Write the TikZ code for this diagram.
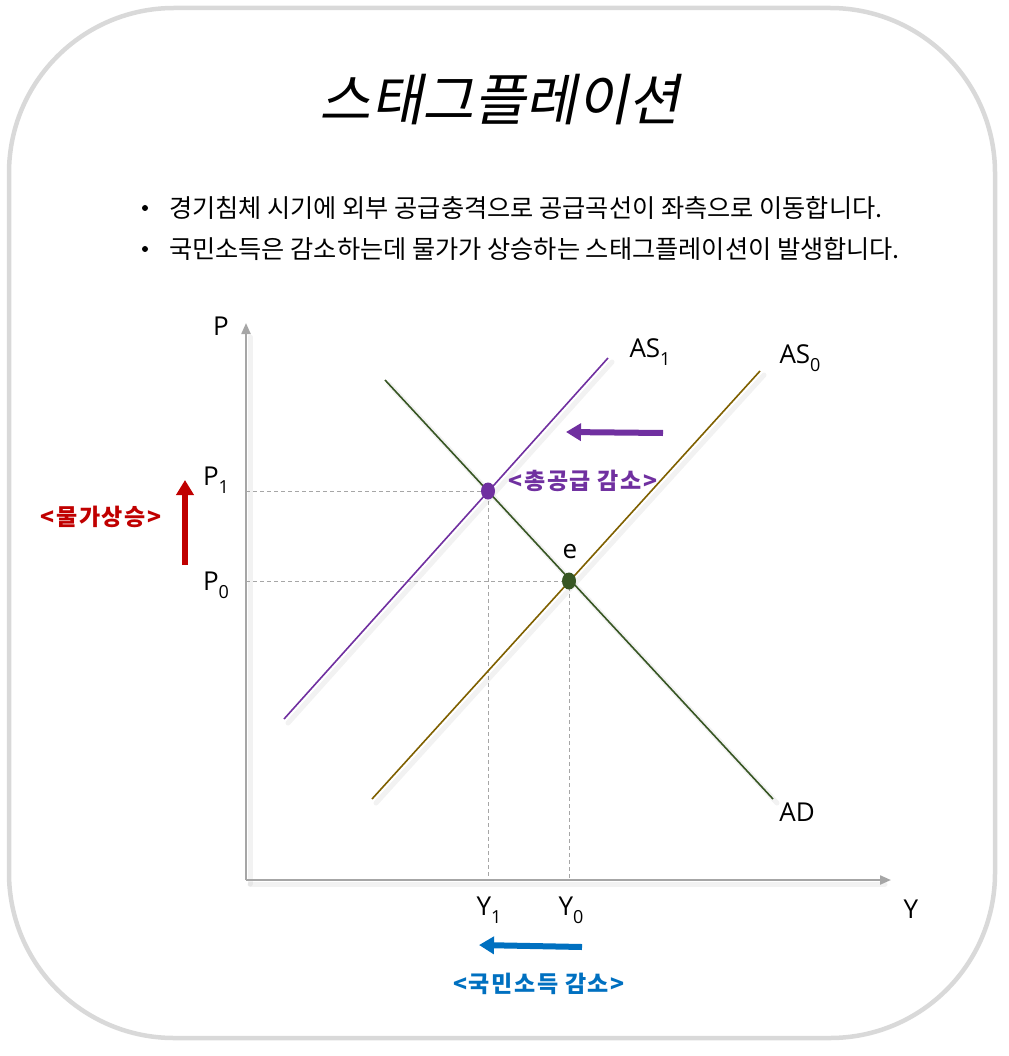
\documentclass[tikz,border=0pt]{standalone}
\usepackage{fontspec}
\setmainfont{Open Sans}
\newfontfamily\kr{Noto Sans CJK KR}
\newfontfamily\krsp[LetterSpace=7]{Noto Sans CJK KR}
\newfontfamily\krit[FakeSlant=0.2]{Noto Sans CJK KR}
\usetikzlibrary{arrows.meta,shapes.geometric}
\definecolor{axisgray}{HTML}{A6A6A6}
\definecolor{asone}{HTML}{7030A0}
\definecolor{adgreen}{HTML}{375623}
\definecolor{aszero}{HTML}{7F6000}
\definecolor{upred}{HTML}{C00000}
\definecolor{downblue}{HTML}{0070C0}
\definecolor{framegray}{HTML}{D9D9D9}
\newcommand\lowsub[1]{\raisebox{-0.3em}{\fontsize{18}{18}\selectfont #1}}
\tikzset{
  axis/.style={draw=axisgray, line width=2.2pt, -{Triangle[length=11pt,width=9pt]}},
  curve/.style={line width=1.6pt},
  shade/.style={draw=black, opacity=0.05, line width=5pt, line cap=round},
  guide/.style={draw=gray!70, dashed, line width=0.8pt, dash pattern=on 4pt off 3pt},
  lbl/.style={inner sep=0pt, font=\fontsize{26}{30}\selectfont},
  fat/.style={line width=6pt, -{Triangle[length=15pt,width=17pt]}},
  krlbl/.style={inner sep=0pt, font=\krsp\bfseries\fontsize{23}{28}\selectfont},
  bul/.style={inner sep=0pt, anchor=west, font=\kr\fontsize{25.2}{30}\selectfont},
  bulmark/.style={circle, fill=black, minimum size=6pt, inner sep=0pt},
  dot/.style={ellipse, minimum width=14pt, minimum height=17pt, inner sep=0pt}
}
\begin{document}
\begin{tikzpicture}[x=1pt,y=-1pt]
\useasboundingbox (0,0) rectangle (1008,1056);
% frame
\draw[line width=4.5pt, draw=framegray, rounded corners=165pt] (9,8) rectangle (995,1038);
% title
\node[inner sep=0pt, font=\krit\fontsize{56}{66}\selectfont] (title) at (500,100) {스태그플레이션};
% bullets
\node[bulmark] (b1) at (145,208) {};
\node[bul] (t1) at (169,208) {경기침체 시기에 외부 공급충격으로 공급곡선이 좌측으로 이동합니다.};
\node[bulmark] (b2) at (145,249) {};
\node[bul] (t2) at (169,249) {국민소득은 감소하는데 물가가 상승하는 스태그플레이션이 발생합니다.};
% axes
\coordinate (O) at (246,880);
\coordinate (ptop) at (246,323);
\coordinate (yend) at (891,880);
\draw[shade] ([shift={(4,4)}]O) -- ([shift={(4,14)}]ptop);
\draw[shade] ([shift={(4,4)}]O) -- ([shift={(-6,4)}]yend);
\draw[axis] (O) -- (ptop);
\draw[axis] (O) -- (yend);
\node[lbl] (plab) at (221,326) {P};
\node[lbl] (ylab) at (911,909) {Y};
% intersection points
\coordinate (E1) at (488,491);
\coordinate (E0) at (569,581);
% guides
\coordinate (p1ax) at (246,491);
\coordinate (p0ax) at (246,581);
\coordinate (y1ax) at (488,880);
\coordinate (y0ax) at (569,880);
\draw[guide] (p1ax) -- (E1) -- (y1ax);
\draw[guide] (p0ax) -- (E0) -- (y0ax);
% curves
\coordinate (ad1) at (385,380);
\coordinate (ad2) at (773,799);
\coordinate (as01) at (372,799);
\coordinate (as02) at (760,371);
\coordinate (as11) at (284,719);
\coordinate (as12) at (608,358);
\draw[shade] ([shift={(4,4)}]ad1) -- ([shift={(4,4)}]ad2);
\draw[shade] ([shift={(4,4)}]as01) -- ([shift={(4,4)}]as02);
\draw[shade] ([shift={(4,4)}]as11) -- ([shift={(4,4)}]as12);
\draw[curve, draw=adgreen] (ad1) -- (ad2);
\draw[curve, draw=aszero] (as01) -- (as02);
\draw[curve, draw=asone] (as11) -- (as12);
% points
\node[dot, fill=asone] (pt1) at (E1) {};
\node[dot, fill=adgreen] (pt0) at (E0) {};
% labels
\node[lbl] (as1lab) at (650,352) {AS\lowsub{1}};
\node[lbl] (as0lab) at (800,358) {AS\lowsub{0}};
\node[lbl] (adlab) at (797,812) {AD};
\node[lbl] (elab) at (570,552) {e};
\node[lbl] (p1lab) at (216,480) {P\lowsub{1}};
\node[lbl] (p0lab) at (216,585) {P\lowsub{0}};
\node[lbl] (y1lab) at (489,910) {Y\lowsub{1}};
\node[lbl] (y0lab) at (571,910) {Y\lowsub{0}};
% shift arrows
\coordinate (pa1) at (663,433);
\coordinate (pa2) at (566,432);
\draw[fat, draw=asone, fill=asone] (pa1) -- (pa2);
\node[krlbl, text=asone] (asdown) at (583,481) {<총공급 감소>};
\coordinate (ra1) at (185,565);
\coordinate (ra2) at (185,480);
\draw[fat, draw=upred, fill=upred] (ra1) -- (ra2);
\node[krlbl, text=upred] (pup) at (101,517) {<물가상승>};
\coordinate (ba1) at (582,947);
\coordinate (ba2) at (479,945);
\draw[fat, draw=downblue, fill=downblue] (ba1) -- (ba2);
\node[krlbl, text=downblue] (ydown) at (539,984) {<국민소득 감소>};
\end{tikzpicture}
\end{document}
